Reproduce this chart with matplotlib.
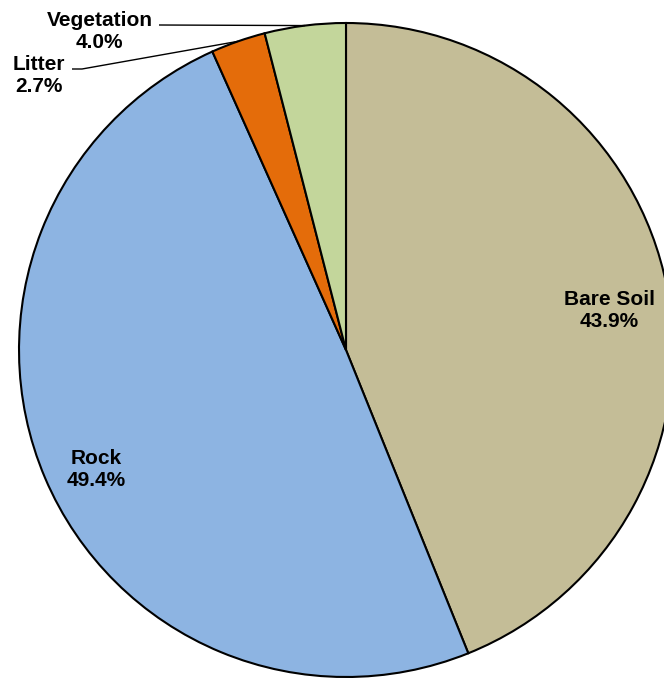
import numpy as np
import matplotlib.pyplot as plt

plt.rcParams['font.family'] = ['Liberation Sans', 'DejaVu Sans']

categories = ["Bare Soil", "Rock", "Litter", "Vegetation"]
shares = [43.9, 49.4, 2.7, 4.0]
colors = ["#C4BD97", "#8DB4E2", "#E46C0A", "#C3D69B"]

W, H = 664, 678
CX, CY, R = 346, 350, 327  # pie centre and radius in pixels


def px(x, y):
    """Pixel position (from top-left) to data units where the pie radius is 1."""
    return (x - CX) / R, (CY - y) / R


def edge_point(idx):
    """Point on the rim at the middle of wedge idx (clockwise from 12 o'clock)."""
    frac = (sum(shares[:idx]) + shares[idx] / 2) / sum(shares)
    ang = np.deg2rad(90 - 360 * frac)
    return np.cos(ang), np.sin(ang)


fig = plt.figure(figsize=(W / 100, H / 100), dpi=100)
ax = fig.add_axes([0, 0, 1, 1])
ax.pie(shares, colors=colors, startangle=90, counterclock=False,
       wedgeprops=dict(edgecolor="black", linewidth=1.5))
ax.set_xlim(-CX / R, (W - CX) / R)
ax.set_ylim(-(H - CY) / R, CY / R)
ax.axis("off")

# label centres (pixels) and leader start points
label_pos = {0: (609, 310), 1: (96, 469), 2: (39, 75), 3: (99.5, 31)}
leaders = {2: [(72, 69), (82, 69)], 3: [(159, 25)]}

for i, name in enumerate(categories):
    lx, ly = px(*label_pos[i])
    ax.text(lx, ly, f"{name}\n{shares[i]:.1f}%", ha="center", va="center",
            fontsize=15, fontweight="bold", linespacing=1.2)
    if i in leaders:
        pts = [px(*p) for p in leaders[i]] + [edge_point(i)]
        xs, ys = zip(*pts)
        ax.plot(xs, ys, color="black", linewidth=1.0, solid_capstyle="butt")

fig.savefig("out.png", dpi=100)
